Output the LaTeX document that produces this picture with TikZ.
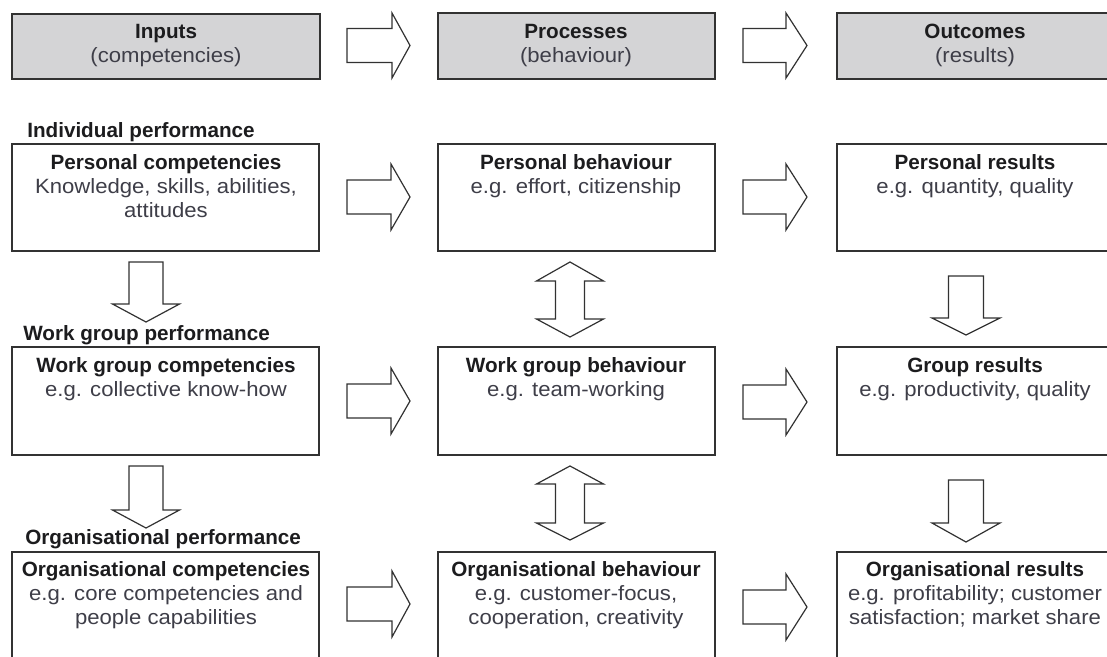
\documentclass[tikz,border=0pt]{standalone}
\usepackage{fontspec}
\setmainfont{Liberation Sans}
\newfontfamily\bodyfont[FakeStretch=1.07]{Liberation Sans}
\definecolor{hdrgrey}{RGB}{212,212,214}
\definecolor{ink}{RGB}{28,28,30}
\definecolor{bodyink}{RGB}{62,62,72}
\definecolor{edge}{RGB}{50,50,50}
\tikzset{
  hdrbox/.style={draw=edge, fill=hdrgrey, line width=1.3pt},
  cbox/.style={draw=edge, fill=white, line width=1.2pt},
  blockarrow/.style={draw=edge, fill=white, line width=0.9pt, line join=miter},
  ttl/.style={font=\fontsize{15.5}{18}\selectfont\bfseries, text=ink, inner sep=0, anchor=base},
  bdy/.style={font=\bodyfont\fontsize{15.5}{18}\selectfont, text=bodyink, inner sep=0, anchor=base},
  lbl/.style={font=\fontsize{15.5}{18}\selectfont\bfseries, text=ink, inner sep=0, anchor=base west}
}
\newcommand\pxbox[6]{\node[#6, anchor=north west, inner sep=0, outer sep=0,
  minimum width={(#4-#2)*0.75pt}, minimum height={(#5-#3)*0.75pt}] (#1) at (#2,#3) {};}
% right block arrow: tail x, head base x, tip x, centre y, shaft half, head half
\newcommand\rarr[6]{\draw[blockarrow] (#1,#4-#5) -- (#2,#4-#5) -- (#2,#4-#6) -- (#3,#4)
  -- (#2,#4+#6) -- (#2,#4+#5) -- (#1,#4+#5) -- cycle;}
% down block arrow: centre x, top y, head base y, tip y, shaft half, head half
\newcommand\darr[6]{\draw[blockarrow] (#1-#5,#2) -- (#1+#5,#2) -- (#1+#5,#3) -- (#1+#6,#3)
  -- (#1,#4) -- (#1-#6,#3) -- (#1-#5,#3) -- cycle;}
% up-down block arrow: centre x, top tip, top base, bottom base, bottom tip, shaft half, head half
\newcommand\udarr[7]{\draw[blockarrow] (#1,#2) -- (#1+#7,#3) -- (#1+#6,#3) -- (#1+#6,#4)
  -- (#1+#7,#4) -- (#1,#5) -- (#1-#7,#4) -- (#1-#6,#4) -- (#1-#6,#3) -- (#1-#7,#3) -- cycle;}
\begin{document}
\begin{tikzpicture}[x=0.75pt,y=-0.75pt]
\useasboundingbox (0,0) rectangle (1107,657);
\clip (0,0) rectangle (1107,657);
\fill[white] (0,0) rectangle (1107,657);

% header boxes
\pxbox{hin}{12}{14}{320}{79}{hdrbox}
\pxbox{hpr}{438}{13}{715}{79}{hdrbox}
\pxbox{hou}{837}{13}{1114}{79}{hdrbox}
\node[ttl] (hin-t) at (166,38) {Inputs};
\node[bdy] (hin-b) at (166,62) {(competencies)};
\node[ttl] (hpr-t) at (576,38) {Processes};
\node[bdy] (hpr-b) at (576,62) {(behaviour)};
\node[ttl] (hou-t) at (975,38) {Outcomes};
\node[bdy] (hou-b) at (975,62) {(results)};
\rarr{347}{392}{410}{45.5}{17}{32.5}
\rarr{743}{786}{807}{45.5}{17}{32.5}

% row labels
\node[lbl] (l1) at (27,137) {Individual performance};
\node[lbl] (l2) at (23,340) {Work group performance};
\node[lbl] (l3) at (25,544) {Organisational performance};

% row 1
\pxbox{pc}{12}{144}{319}{251}{cbox}
\pxbox{pb}{438}{144}{715}{251}{cbox}
\pxbox{pr}{837}{144}{1114}{251}{cbox}
\node[ttl] (pc-t) at (166,169) {Personal competencies};
\node[bdy] (pc-1) at (166,193) {Knowledge, skills, abilities,};
\node[bdy] (pc-2) at (166,217) {attitudes};
\node[ttl] (pb-t) at (576,169) {Personal behaviour};
\node[bdy] (pb-1) at (576,193) {e.g. effort, citizenship};
\node[ttl] (pr-t) at (975,169) {Personal results};
\node[bdy] (pr-1) at (975,193) {e.g. quantity, quality};
\rarr{347}{391}{410}{197}{17}{33}
\rarr{743}{786}{807}{197}{17}{33}

% row 2
\pxbox{wc}{12}{347}{319}{455}{cbox}
\pxbox{wb}{438}{347}{715}{455}{cbox}
\pxbox{wr}{837}{347}{1114}{455}{cbox}
\node[ttl] (wc-t) at (166,372) {Work group competencies};
\node[bdy] (wc-1) at (166,396) {e.g. collective know-how};
\node[ttl] (wb-t) at (576,372) {Work group behaviour};
\node[bdy] (wb-1) at (576,396) {e.g. team-working};
\node[ttl] (wr-t) at (975,372) {Group results};
\node[bdy] (wr-1) at (975,396) {e.g. productivity, quality};
\rarr{347}{391}{410}{401}{17}{33}
\rarr{743}{786}{807}{402}{17}{33}

% row 3
\pxbox{oc}{12}{552}{319}{680}{cbox}
\pxbox{ob}{438}{552}{715}{680}{cbox}
\pxbox{or}{837}{552}{1114}{680}{cbox}
\node[ttl] (oc-t) at (166,576) {Organisational competencies};
\node[bdy] (oc-1) at (166,600) {e.g. core competencies and};
\node[bdy] (oc-2) at (166,624) {people capabilities};
\node[ttl] (ob-t) at (576,576) {Organisational behaviour};
\node[bdy] (ob-1) at (576,600) {e.g. customer-focus,};
\node[bdy] (ob-2) at (576,624) {cooperation, creativity};
\node[ttl] (or-t) at (975,576) {Organisational results};
\node[bdy] (or-1) at (975,600) {e.g. profitability; customer};
\node[bdy] (or-2) at (975,624) {satisfaction; market share};
\rarr{347}{392}{410}{604}{17}{33}
\rarr{743}{786}{807}{607}{17}{33}

% vertical arrows
\darr{146}{262}{304}{322}{17}{33.5}
\darr{146}{466}{510}{528}{17}{33.5}
\udarr{570}{262}{281}{319}{337}{14.5}{33.5}
\udarr{570}{466}{484}{523}{540}{14.5}{33.5}
\darr{966}{276}{318}{335}{17.5}{34}
\darr{966}{480}{523}{542}{17.5}{34}
\end{tikzpicture}
\end{document}
